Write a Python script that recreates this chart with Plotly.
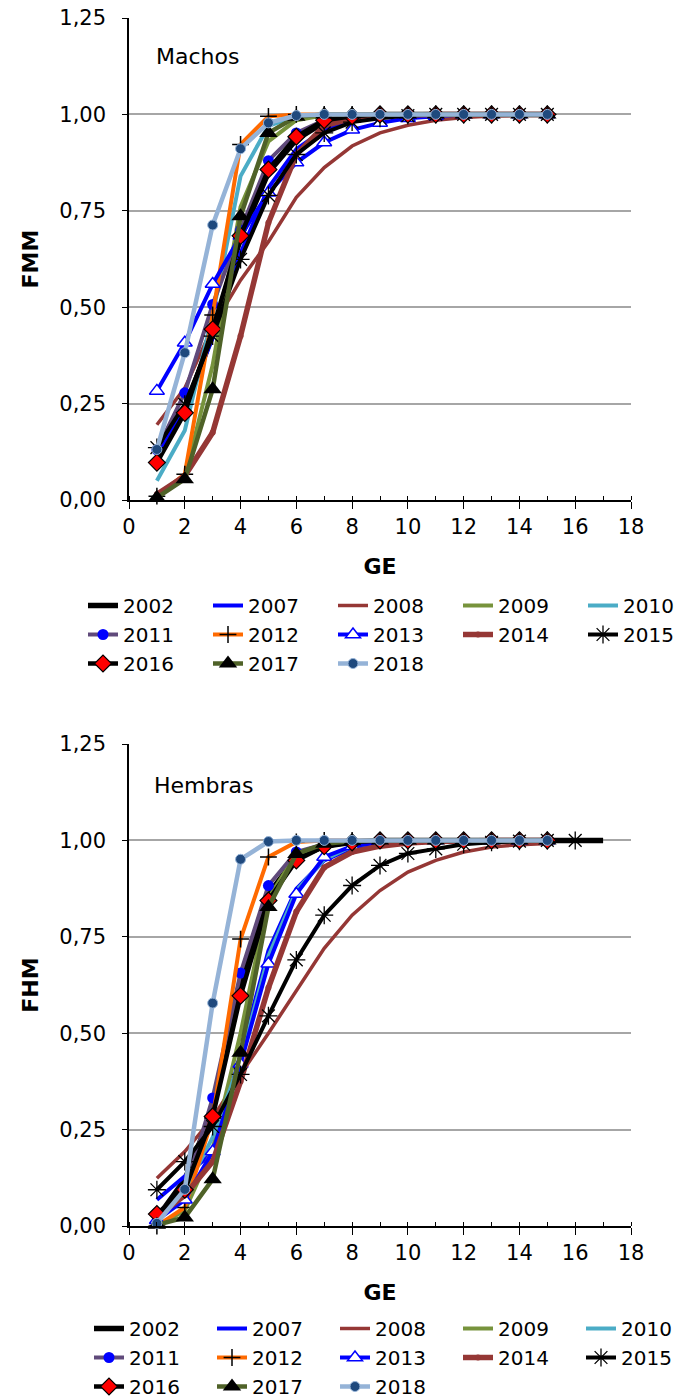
import plotly.graph_objects as go

# Edad (GE) en años
ge_machos = [1, 2, 3, 4, 5, 6, 7, 8, 9, 10, 11, 12, 13, 14, 15]
ge_hembras = [1, 2, 3, 4, 5, 6, 7, 8, 9, 10, 11, 12, 13, 14, 15, 16, 17]

years = ["2002", "2007", "2008", "2009", "2010", "2011", "2012",
         "2013", "2014", "2015", "2016", "2017", "2018"]

# Fracción de machos maduros (FMM) por edad
fmm_2002 = [0.12, 0.235, 0.43, 0.68, 0.85, 0.935, 0.98, 0.995, 1, 1, 1, 1, 1, 1, 1]
fmm_2007 = [0.11, 0.24, 0.42, 0.64, 0.81, 0.91, 0.96, 0.985, 0.995, 1, 1, 1, 1, 1, 1]
fmm_2008 = [0.195, 0.29, 0.45, 0.57, 0.67, 0.785, 0.862, 0.918, 0.952, 0.972, 0.985, 0.992, 0.996, 0.998, 1]
fmm_2009 = [0.01, 0.06, 0.35, 0.76, 0.93, 0.985, 0.998, 1, 1, 1, 1, 1, 1, 1, 1]
fmm_2010 = [0.05, 0.18, 0.48, 0.84, 0.97, 0.995, 1, 1, 1, 1, 1, 1, 1, 1, 1]
fmm_2011 = [0.13, 0.278, 0.507, 0.70, 0.88, 0.952, 0.985, 0.995, 1, 1, 1, 1, 1, 1, 1]
fmm_2012 = [0.01, 0.067, 0.48, 0.922, 0.995, 1, 1, 1, 1, 1, 1, 1, 1, 1, 1]
fmm_2013 = [0.283, 0.408, 0.56, 0.685, 0.797, 0.875, 0.927, 0.96, 0.978, 0.99, 0.995, 1, 1, 1, 1]
fmm_2014 = [0.015, 0.062, 0.175, 0.425, 0.719, 0.896, 0.97, 0.99, 0.997, 1, 1, 1, 1, 1, 1]
fmm_2015 = [0.136, 0.248, 0.425, 0.624, 0.79, 0.896, 0.952, 0.98, 0.99, 0.997, 1, 1, 1, 1, 1]
fmm_2016 = [0.097, 0.226, 0.443, 0.685, 0.857, 0.942, 0.985, 0.995, 1, 1, 1, 1, 1, 1, 1]
fmm_2017 = [0.006, 0.054, 0.287, 0.736, 0.952, 0.994, 1, 1, 1, 1, 1, 1, 1, 1, 1]
fmm_2018 = [0.131, 0.382, 0.713, 0.911, 0.978, 0.997, 1, 1, 1, 1, 1, 1, 1, 1, 1]

# Fracción de hembras maduras (FHM) por edad
fhm_2002 = [0.02, 0.12, 0.30, 0.62, 0.86, 0.955, 0.985, 0.995, 1, 1, 1, 1, 1, 1, 1, 1, 1]
fhm_2007 = [0.068, 0.128, 0.19, 0.445, 0.714, 0.874, 0.948, 0.98, 0.995, 1, 1, 1, 1, 1, 1]
fhm_2008 = [0.124, 0.193, 0.28, 0.393, 0.50, 0.61, 0.72, 0.806, 0.87, 0.918, 0.948, 0.97, 0.983, 0.989, 0.992]
fhm_2009 = [0.0, 0.04, 0.2, 0.5, 0.85, 0.965, 0.99, 0.998, 1, 1, 1, 1, 1, 1, 1]
fhm_2010 = [0.02, 0.09, 0.23, 0.43, 0.70, 0.87, 0.95, 0.985, 0.995, 1, 1, 1, 1, 1, 1]
fhm_2011 = [0.033, 0.09, 0.332, 0.656, 0.883, 0.97, 0.99, 0.997, 1, 1, 1, 1, 1, 1, 1]
fhm_2012 = [0.0, 0.048, 0.28, 0.744, 0.957, 0.996, 1, 1, 1, 1, 1, 1, 1, 1, 1]
fhm_2013 = [0.015, 0.068, 0.193, 0.42, 0.68, 0.861, 0.957, 0.985, 0.995, 1, 1, 1, 1, 1, 1]
fhm_2014 = [0.024, 0.08, 0.167, 0.375, 0.618, 0.815, 0.93, 0.97, 0.985, 0.993, 0.997, 1, 1, 1, 1]
fhm_2015 = [0.094, 0.167, 0.258, 0.393, 0.545, 0.69, 0.806, 0.883, 0.935, 0.966, 0.978, 0.99, 0.995, 0.998, 1, 1]
fhm_2016 = [0.031, 0.094, 0.284, 0.597, 0.844, 0.948, 0.985, 0.995, 1, 1, 1, 1, 1, 1, 1]
fhm_2017 = [0.003, 0.022, 0.121, 0.449, 0.827, 0.965, 0.991, 0.998, 1, 1, 1, 1, 1, 1, 1]
fhm_2018 = [0.007, 0.095, 0.578, 0.951, 0.997, 1, 1, 1, 1, 1, 1, 1, 1, 1, 1]

fmm = [fmm_2002, fmm_2007, fmm_2008, fmm_2009, fmm_2010, fmm_2011, fmm_2012,
       fmm_2013, fmm_2014, fmm_2015, fmm_2016, fmm_2017, fmm_2018]
fhm = [fhm_2002, fhm_2007, fhm_2008, fhm_2009, fhm_2010, fhm_2011, fhm_2012,
       fhm_2013, fhm_2014, fhm_2015, fhm_2016, fhm_2017, fhm_2018]

x_ticks = [0, 2, 4, 6, 8, 10, 12, 14, 16, 18]
y_ticks = [0, 0.25, 0.5, 0.75, 1.0, 1.25]

FONT = "DejaVu Sans, Liberation Sans, Arial, sans-serif"

# estilo de línea y marcador por año
styles = {
    "2002": dict(line=dict(color="#000000", width=5.5), marker=None),
    "2007": dict(line=dict(color="#0000FF", width=4), marker=None),
    "2008": dict(line=dict(color="#953735", width=3.5), marker=None),
    "2009": dict(line=dict(color="#77933C", width=4), marker=None),
    "2010": dict(line=dict(color="#4BACC6", width=4), marker=None),
    "2011": dict(line=dict(color="#604A7B", width=4),
                 marker=dict(symbol="circle", size=11, color="#0000FF")),
    "2012": dict(line=dict(color="#FF6A00", width=4),
                 marker=dict(symbol="cross-thin-open", size=12, color="#000000",
                             line=dict(color="#000000", width=1.5))),
    "2013": dict(line=dict(color="#0000FF", width=4),
                 marker=dict(symbol="triangle-up", size=13, color="#FFFFFF",
                             line=dict(color="#0000FF", width=1.5))),
    "2014": dict(line=dict(color="#953735", width=5.5),
                 marker=dict(symbol="circle", size=6, color="#953735")),
    "2015": dict(line=dict(color="#000000", width=4),
                 marker=dict(symbol="asterisk-open", size=15, color="#000000",
                             line=dict(color="#000000", width=1.3))),
    "2016": dict(line=dict(color="#000000", width=4.5),
                 marker=dict(symbol="diamond", size=13, color="#FF0000",
                             line=dict(color="#000000", width=1.2))),
    "2017": dict(line=dict(color="#4F6228", width=4.5),
                 marker=dict(symbol="triangle-up", size=16, color="#000000")),
    "2018": dict(line=dict(color="#95B3D7", width=4.5),
                 marker=dict(symbol="circle", size=10, color="#1F497D",
                             line=dict(color="#95B3D7", width=1))),
}

fig = go.Figure()


def add_series(ge, series, xa, ya, legend_name):
    for year, vals in zip(years, series):
        st = styles[year]
        kw = dict(
            x=ge[:len(vals)], y=vals, name=year,
            xaxis=xa, yaxis=ya, legend=legend_name,
            line=st["line"], cliponaxis=False,
        )
        if st["marker"] is None:
            kw["mode"] = "lines"
        else:
            kw["mode"] = "lines+markers"
            kw["marker"] = st["marker"]
        fig.add_trace(go.Scatter(**kw))


add_series(ge_machos, fmm, "x", "y", "legend")
add_series(ge_hembras, fhm, "x2", "y2", "legend2")

W, H = 676, 1400
ML, MR = 40, 0
PW = W - ML - MR


def px_x(px):
    return (px - ML) / PW


def px_y(py):
    return (H - py) / H


def xaxis_cfg(anchor):
    return dict(
        domain=[px_x(129), px_x(631)], anchor=anchor, range=[0, 18],
        tickmode="array", tickvals=x_ticks,
        ticks="outside", ticklen=7, tickwidth=1.2, tickcolor="#000000",
        minor=dict(tickmode="linear", tick0=0, dtick=1, ticks="inside",
                   ticklen=4, tickcolor="#000000", tickwidth=1.2),
        showline=True, linecolor="#000000", linewidth=1.5,
        showgrid=False, zeroline=False,
        tickfont=dict(family=FONT, size=21, color="#000000"),
        title=dict(text="<b>GE</b>", font=dict(family=FONT, size=22, color="#000000"),
                   standoff=21),
    )


def yaxis_cfg(anchor, top, bottom, label):
    return dict(
        domain=[px_y(bottom), px_y(top)], anchor=anchor, range=[0, 1.25],
        tickmode="array", tickvals=y_ticks, tickformat=".2f",
        ticks="outside", ticklen=5, tickwidth=1.2, tickcolor="#000000",
        ticklabelstandoff=12,
        showline=True, linecolor="#000000", linewidth=1.5,
        showgrid=True, gridcolor="#A6A6A6", gridwidth=1.5, zeroline=False,
        tickfont=dict(family=FONT, size=21, color="#000000"),
        title=dict(text="<b>%s</b>" % label, font=dict(family=FONT, size=22, color="#000000"),
                   standoff=15),
    )


legend_common = dict(
    orientation="h", xanchor="left", yanchor="top",
    font=dict(family=FONT, size=20, color="#000000"),
    itemwidth=30, entrywidthmode="pixels",
    bgcolor="rgba(0,0,0,0)", tracegroupgap=0,
)

fig.update_layout(
    width=W, height=H,
    margin=dict(l=ML, r=MR, t=0, b=0, pad=0, autoexpand=False),
    paper_bgcolor="white", plot_bgcolor="white",
    separators=",.",
    font=dict(family=FONT, color="#000000"),
    xaxis=xaxis_cfg("y"),
    yaxis=yaxis_cfg("x", 18, 500, "FMM"),
    xaxis2=xaxis_cfg("y2"),
    yaxis2=yaxis_cfg("x2", 744, 1226, "FHM"),
    legend=dict(x=px_x(83), y=px_y(586), entrywidth=80, **legend_common),
    legend2=dict(x=px_x(89), y=px_y(1309), entrywidth=78, **legend_common),
    annotations=[
        dict(text="Machos", x=px_x(154), y=px_y(57), xref="paper", yref="paper",
             xanchor="left", yanchor="middle", showarrow=False,
             font=dict(family=FONT, size=22, color="#000000")),
        dict(text="Hembras", x=px_x(152), y=px_y(785), xref="paper", yref="paper",
             xanchor="left", yanchor="middle", showarrow=False,
             font=dict(family=FONT, size=22, color="#000000")),
    ],
    showlegend=True,
)

fig.write_html("out.html")
